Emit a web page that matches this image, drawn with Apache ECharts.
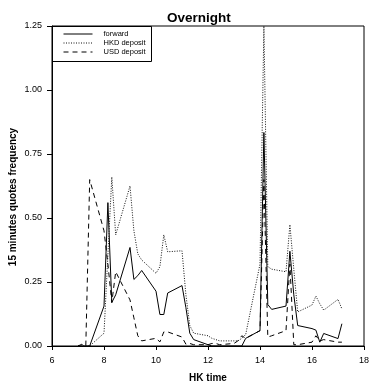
<!DOCTYPE html>
<html>
<head>
<meta charset="utf-8">
<script src="https://cdn.jsdelivr.net/npm/echarts@6/dist/echarts.min.js"></script>
<style>html,body{margin:0;padding:0;background:#fff}#c{width:370px;height:384px}</style>
</head>
<body>
<div id="c"></div>
<script>
// HK time (HH.MM as plotted)
var times = [7.00,7.15,7.30,7.45,8.00,8.15,8.30,8.45,9.00,9.15,9.30,9.45,10.00,10.15,10.30,10.45,11.00,11.15,11.30,11.45,12.00,12.15,12.30,12.45,13.00,13.15,13.30,13.45,14.00,14.15,14.30,14.45,15.00,15.15,15.30,15.45,16.00,16.15,16.30,16.45,17.00,17.15];
var forward = [0,0,0,0,0.156,0.56,0.17,0.20,0.385,0.26,0.275,0.295,0.214,0.123,0.123,0.207,0.236,0.15,0.05,0.025,0.005,0,0,0,0,0,0,0.03,0.06,0.834,0.162,0.143,0.156,0.37,0.2,0.08,0.068,0.062,0.015,0.049,0.029,0.087];
var hkdDeposit = [0,0,0,0,0.05,0.355,0.66,0.434,0.625,0.45,0.36,0.336,0.284,0.31,0.434,0.368,0.372,0.2,0.08,0.05,0.04,0.03,0.025,0.02,0.02,0.02,0.03,0.045,0.32,1.25,0.31,0.30,0.29,0.474,0.3,0.133,0.16,0.195,0.165,0.14,0.182,0.145];
var usdDeposit = [0,0.007,0,0.65,0.45,0.32,0.17,0.29,0.18,0.11,0.04,0.02,0.03,0.016,0.055,0.055,0.035,0.007,0.01,0.005,0.005,0.01,0.01,0.005,0.01,0.02,0.04,0.03,0.06,0.65,0.035,0.04,0.06,0.32,0.005,0.005,0.015,0.04,0.02,0.025,0.015,0.015];
var yTicks = [0,0.25,0.5,0.75,1.0,1.25];
var xTicks = [6,8,10,12,14,16,18];
var seriesNames = ['forward','HKD deposit','USD deposit'];

function pairs(v){ return times.map(function(t,i){ return [t, v[i]]; }); }

var styles = [
  {color:'#000', width:1, type:'solid'},
  {color:'#111', width:1, type:[1,1.5]},
  {color:'#000', width:1, type:[5,4]}
];

var chart = echarts.init(document.getElementById('c'), null, {renderer:'canvas'});
var FONT = 'Liberation Sans, Arial, sans-serif';
chart.setOption({
  animation:false,
  backgroundColor:'#fff',
  title:{text:'Overnight', left:162, top:6,
    textStyle:{fontFamily:FONT, fontSize:13.5, fontWeight:'bold', color:'#000'}},
  grid:{left:52, right:6, top:26, bottom:38, containLabel:false, outerBoundsMode:'none',
    show:true, borderColor:'#000', borderWidth:1, backgroundColor:'transparent'},
  xAxis:{type:'value', min:xTicks[0], max:xTicks[xTicks.length-1], interval:2,
    name:'HK time', nameLocation:'middle', nameGap:27,
    nameTextStyle:{fontFamily:FONT, fontSize:10, fontWeight:'bold', color:'#000'},
    axisLine:{lineStyle:{color:'#000', width:1}},
    axisTick:{length:4, lineStyle:{color:'#000'}},
    axisLabel:{fontFamily:FONT, fontSize:9, color:'#000', margin:10},
    splitLine:{show:false}},
  yAxis:{type:'value', min:yTicks[0], max:yTicks[yTicks.length-1], interval:0.25,
    axisLine:{show:true, lineStyle:{color:'#000', width:1}},
    axisTick:{show:true, length:5, lineStyle:{color:'#000'}},
    axisLabel:{fontFamily:FONT, fontSize:9, color:'#000', margin:10, formatter:function(v){return v.toFixed(2);}},
    splitLine:{show:false}},
  legend:{orient:'vertical', left:58, top:25, itemWidth:29, itemHeight:8, itemGap:1,
    itemStyle:{opacity:0},
    textStyle:{fontFamily:FONT, fontSize:7.5, color:'#000', padding:[0,0,0,6]},
    data:seriesNames.map(function(n,i){ return {name:n, lineStyle:styles[i]}; })},
  graphic:[
    {type:'rect', shape:{x:52.5, y:26.5, width:99, height:35}, style:{fill:'#fff', stroke:'#000', lineWidth:1}, z:-1},
    {type:'text', x:13, y:197, rotation:Math.PI/2,
      style:{text:'15 minutes quotes frequency', fontFamily:FONT, fontSize:10, fontWeight:'bold', fill:'#000', align:'center', verticalAlign:'middle'}}
  ],
  series:[
    {name:seriesNames[0], type:'line', data:pairs(forward), showSymbol:false, symbol:'none',
      lineStyle:styles[0], itemStyle:{color:'#000'}},
    {name:seriesNames[1], type:'line', data:pairs(hkdDeposit), showSymbol:false, symbol:'none',
      lineStyle:styles[1], itemStyle:{color:'#111'}},
    {name:seriesNames[2], type:'line', data:pairs(usdDeposit), showSymbol:false, symbol:'none',
      lineStyle:styles[2], itemStyle:{color:'#000'}}
  ]
});
</script>
</body>
</html>
